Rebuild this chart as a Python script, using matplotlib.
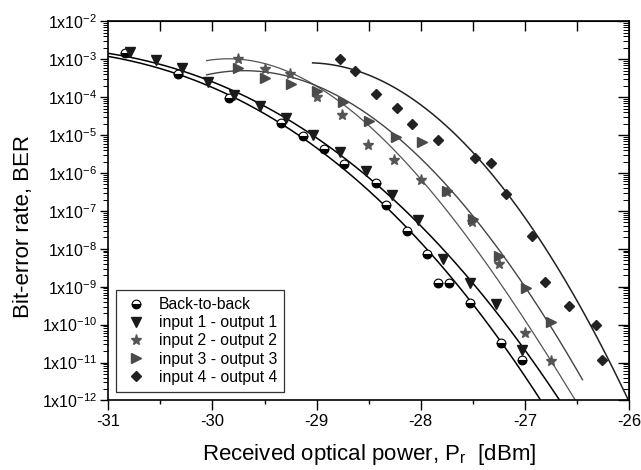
import numpy as np
import matplotlib
matplotlib.use("Agg")
import matplotlib.pyplot as plt
from matplotlib.ticker import FixedLocator, LogLocator, NullFormatter

plt.rcParams['font.family'] = ['Liberation Sans', 'DejaVu Sans']
plt.rcParams['mathtext.fontset'] = 'custom'
plt.rcParams['mathtext.rm'] = 'Liberation Sans'

# measured points (received power in dBm, BER)
btb_p = [-30.84, -30.33, -29.84, -29.34, -29.13, -28.93, -28.74, -28.43, -28.33,
         -28.13, -27.94, -27.83, -27.73, -27.53, -27.23, -27.03]
btb_ber = [1.44e-3, 4.1e-4, 9.4e-5, 2.05e-5, 9.5e-6, 4.2e-6, 1.7e-6, 5.3e-7, 1.46e-7,
           3.0e-8, 7.3e-9, 1.28e-9, 1.23e-9, 3.8e-10, 3.3e-11, 1.14e-11]

in1_p = [-30.79, -30.54, -30.29, -30.04, -29.79, -29.54, -29.29, -29.03, -28.78,
         -28.53, -28.28, -28.03, -27.79, -27.53, -27.28, -27.03]
in1_ber = [1.53e-3, 9.6e-4, 6.0e-4, 2.56e-4, 1.14e-4, 5.9e-5, 2.8e-5, 1.0e-5, 3.65e-6,
           1.15e-6, 2.6e-7, 5.8e-8, 5.3e-9, 1.29e-9, 3.6e-10, 2.2e-11]

in2_p = [-29.75, -29.50, -29.26, -29.00, -28.76, -28.51, -28.26, -28.00, -27.75,
         -27.51, -27.25, -27.00, -26.75]
in2_ber = [1.0e-3, 5.45e-4, 4.1e-4, 1.03e-4, 3.4e-5, 5.5e-6, 2.14e-6, 6.5e-7, 3.2e-7,
           5.2e-8, 4.0e-9, 6.1e-11, 1.11e-11]

in3_p = [-29.75, -29.50, -29.25, -29.00, -28.75, -28.50, -28.24, -27.99, -27.75,
         -27.50, -27.25, -26.99, -26.75]
in3_ber = [5.8e-4, 3.2e-4, 2.23e-4, 1.46e-4, 7.5e-5, 2.29e-5, 8.9e-6, 6.4e-6, 3.35e-7,
           6.1e-8, 6.5e-9, 9.1e-10, 1.19e-10]

in4_p = [-28.78, -28.63, -28.43, -28.23, -28.08, -27.83, -27.48, -27.33, -27.18,
         -26.93, -26.81, -26.58, -26.32, -26.26]
in4_ber = [1.0e-3, 5.0e-4, 1.19e-4, 5.1e-5, 1.96e-5, 7.4e-6, 2.44e-6, 1.89e-6, 2.8e-7,
           2.18e-8, 1.31e-9, 3.1e-10, 9.8e-11, 1.16e-11]

# fitted curves, points (dBm, log10 BER)
btb_fit_p = [-31.0, -29.842, -29.138, -28.335, -27.529, -26.841]
btb_fit_log = [-2.913, -3.995, -5.024, -6.844, -9.430, -12.0]
in1_fit_p = [-31.0, -29.794, -29.036, -28.282, -27.529, -27.030, -26.655]
in1_fit_log = [-2.826, -3.916, -4.945, -6.580, -8.889, -10.59, -12.0]
in2_fit_p = [-30.056, -29.48, -28.68, -27.737, -27.49, -26.511]
in2_fit_log = [-2.992, -3.237, -4.232, -6.976, -8.032, -12.0]
in3_fit_p = [-30.056, -29.64, -29.16, -28.68, -27.545, -27.257, -26.447]
in3_fit_log = [-3.388, -3.327, -3.591, -4.074, -6.976, -8.03, -11.443]
in4_fit_p = [-29.038, -28.632, -27.913, -27.177, -26.857, -26.0]
in4_fit_log = [-3.071, -3.309, -4.47, -6.185, -8.032, -12.0]

labels = ['Back-to-back', 'input 1 - output 1', 'input 2 - output 2',
          'input 3 - output 3', 'input 4 - output 4']

fig = plt.figure(figsize=(6.41, 4.70), dpi=100)
ax = fig.add_axes([0.1689, 0.148, 0.8125, 0.8065])


def fit_line(px, plog, color, lw, deg=3):
    c = np.polyfit(px, plog, deg)
    xs = np.linspace(px[0], px[-1], 200)
    ax.plot(xs, 10 ** np.polyval(c, xs), color=color, lw=lw, zorder=2)


fit_line(btb_fit_p, btb_fit_log, 'black', 1.1)
fit_line(in1_fit_p, in1_fit_log, 'black', 1.1)
fit_line(in2_fit_p, in2_fit_log, '#555555', 0.9)
fit_line(in3_fit_p, in3_fit_log, '#444444', 1.0)
fit_line(in4_fit_p, in4_fit_log, '#222222', 1.1, deg=2)

ax.plot(btb_p, btb_ber, 'o', ls='none', ms=6.3, fillstyle='bottom', mfc='black',
        markerfacecoloralt='white', mec='black', mew=0.8, label=labels[0], zorder=3)
ax.plot(in1_p, in1_ber, 'v', ls='none', ms=7.5, color='#1a1a1a', label=labels[1], zorder=3)
ax.plot(in2_p, in2_ber, '*', ls='none', ms=8, color='#555555', label=labels[2], zorder=3)
ax.plot(in3_p, in3_ber, '>', ls='none', ms=7.5, color='#4a4a4a', label=labels[3], zorder=3)
ax.plot(in4_p, in4_ber, 'D', ls='none', ms=5.5, color='#222222', label=labels[4], zorder=3)

ax.set_yscale('log')
ax.set_xlim(-31, -26)
ax.set_ylim(1e-12, 1e-2)

ax.set_xticks([-31, -30, -29, -28, -27, -26])
ax.set_xticklabels(['-31', '-30', '-29', '-28', '-27', '-26'])
ax.xaxis.set_minor_locator(FixedLocator([-30.5, -29.5, -28.5, -27.5, -26.5]))

yt = [10.0 ** k for k in range(-12, -1)]
ax.set_yticks(yt)
ax.set_yticklabels([r'$\mathregular{1x10^{%d}}$' % k for k in range(-12, -1)])
ax.yaxis.set_minor_locator(LogLocator(base=10, subs=np.arange(2, 10), numticks=20))
ax.yaxis.set_minor_formatter(NullFormatter())

ax.tick_params(axis='x', which='major', direction='out', length=7, width=1,
               labelsize=12, top=False, pad=3)
ax.tick_params(axis='x', which='minor', direction='out', length=3, width=1, top=False)
ax.tick_params(axis='y', which='major', direction='out', length=6, width=1,
               labelsize=11.5, right=False, pad=2)
ax.tick_params(axis='y', which='minor', direction='out', length=3.5, width=0.7, right=False)

# top axis ticks every 0.5 dBm pointing inward
top = ax.secondary_xaxis('top')
top.set_xticks([-30.5, -30, -29.5, -29, -28.5, -28, -27.5, -27, -26.5])
top.tick_params(direction='in', length=7, width=1, labeltop=False)

# right axis ticks pointing inward
right = ax.secondary_yaxis('right')
right.set_yticks(yt)
right.yaxis.set_minor_locator(LogLocator(base=10, subs=np.arange(2, 10), numticks=20))
right.yaxis.set_minor_formatter(NullFormatter())
right.tick_params(which='major', direction='in', length=8, width=1, labelright=False)
right.tick_params(which='minor', direction='in', length=4, width=0.7, labelright=False)

for s in ax.spines.values():
    s.set_linewidth(1.2)

ax.set_xlabel(r'Received optical power, P$_\mathregular{r}$  [dBm]', fontsize=16, labelpad=9)
ax.set_ylabel('Bit-error rate, BER', fontsize=16)
ax.yaxis.set_label_coords(-0.143, 0.46)

leg = ax.legend(loc='lower left', bbox_to_anchor=(0.0142, 0.023), borderaxespad=0,
                fontsize=11.3, frameon=True, fancybox=False, edgecolor='black',
                borderpad=0.45, labelspacing=0.2, handletextpad=0.6, handlelength=1.7)
leg.get_frame().set_linewidth(0.9)

fig.savefig('out.png', dpi=100)
